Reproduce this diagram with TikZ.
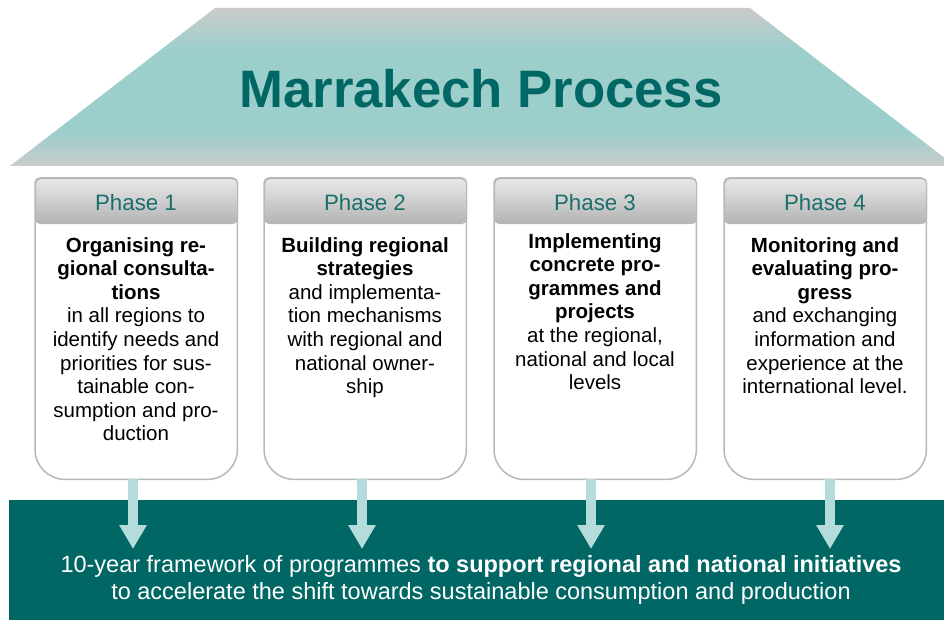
\documentclass[tikz,border=0pt]{standalone}
\usepackage{fontspec}
\setmainfont{Liberation Sans}
\usetikzlibrary{arrows.meta}
\definecolor{tealdark}{HTML}{006764}
\definecolor{teallight}{HTML}{B3DCDA}
\definecolor{roofteal}{HTML}{9CCECC}
\definecolor{roofgray}{HTML}{CBCBCB}
\definecolor{roofgrayb}{HTML}{C8CCCC}
\definecolor{boxgray}{HTML}{B8B8B8}
\definecolor{phaseteal}{HTML}{1A6F6B}
\definecolor{headtop}{HTML}{E8E8E8}
\definecolor{headbot}{HTML}{B4B4B4}
\pgfdeclareverticalshading{roofshade}{100bp}{color(0bp)=(roofgrayb);
  color(25bp)=(roofgrayb); color(36bp)=(roofteal); color(62bp)=(roofteal);
  color(75bp)=(roofgray); color(100bp)=(roofgray)}
\tikzset{
  bodytext/.style={align=center, anchor=north, inner sep=0pt,
    font=\fontsize{20.5}{23.6}\selectfont, text=black},
  phaselabel/.style={inner sep=0pt, font=\fontsize{22.3}{26}\selectfont, text=phaseteal},
  boxline/.style={draw=boxgray, line width=1.5pt, fill=white},
  headerbox/.style={draw=boxgray, line width=1.2pt, rounded corners=5pt,
    top color=headtop, bottom color=headbot, minimum width=202pt,
    minimum height=45pt, anchor=north west, inner sep=0pt},
  boxarea/.style={minimum width=202pt, minimum height=301pt, inner sep=0pt,
    anchor=north west},
  flowarrow/.style={draw=teallight, line width=10pt,
    -{Triangle[width=26pt,length=24pt]}},
  bandtext/.style={anchor=base, inner sep=0pt, text=white,
    font=\fontsize{23.5}{27}\selectfont},
}
\newcommand\phasebox[6]{% name, left x, header, text, text y, arrow x
  \node[boxarea] (#1) at (#2,178) {};
  \draw[boxline] (#1.west) [rounded corners=30pt] -- (#1.south west)
    -- (#1.south east) -- (#1.east) [rounded corners=5pt]
    -- (#1.north east) -- (#1.north west) -- cycle;
  \node[headerbox] (#1h) at (#2,178) {};
  \node[phaselabel] (#1l) at ({#2+101},203) {#3};
  \node[bodytext] (#1t) at ({#2+101},#5) {#4};
  \coordinate (#1a) at (#6,549);
  \draw[flowarrow] (#1.south -| #1a) -- (#1a);
}
\begin{document}
\begin{tikzpicture}[x=1pt,y=-1pt]
\useasboundingbox (0,0) rectangle (944,620);
\begin{scope}
\clip (0,0) rectangle (944,620);
% roof
\path[shading=roofshade]
  (215,8) -- (750,8) -- (955,166) -- (10,166) -- cycle;
\node[inner sep=0pt, text=tealdark, font=\fontsize{52.7}{60}\selectfont\bfseries]
  (title) at (481,89) {Marrakech Process};
% band
\node[fill=tealdark, inner sep=0pt, minimum width=940pt, minimum height=120pt,
  anchor=north west] (band) at (9,500) {};
\end{scope}
\node[bandtext] (bt1) at (481,572) {10-year framework of programmes \textbf{to support regional and national initiatives}};
\node[bandtext] (bt2) at (481,599) {to accelerate the shift towards sustainable consumption and production};
% phases
\phasebox{p1}{35}{Phase 1}{\textbf{Organising re-}\\\textbf{gional consulta-}\\\textbf{tions}\\in all regions to\\identify needs and\\priorities for sus-\\tainable con-\\sumption and pro-\\duction}{237}{133}
\phasebox{p2}{264}{Phase 2}{\textbf{Building regional}\\\textbf{strategies}\\and implementa-\\tion mechanisms\\with regional and\\national owner-\\ship}{237}{362}
\phasebox{p3}{494}{Phase 3}{\textbf{Implementing}\\\textbf{concrete pro-}\\\textbf{grammes and}\\\textbf{projects}\\at the regional,\\national and local\\levels}{233}{591}
\phasebox{p4}{724}{Phase 4}{\textbf{Monitoring and}\\\textbf{evaluating pro-}\\\textbf{gress}\\and exchanging\\information and\\experience at the\\international level.}{237}{830}
\end{tikzpicture}
\end{document}
